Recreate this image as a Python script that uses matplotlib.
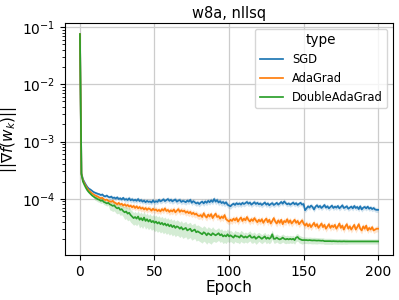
import numpy as np
import matplotlib
matplotlib.use("Agg")
import matplotlib.pyplot as plt

# mean gradient norm per epoch, in units of 1e-5 (epochs 0..200)
sgd = [7500,
       28, 22, 19.5, 17.5, 16, 15, 14.5, 13.8, 13.2, 12.8,
       12.5, 12.2, 12.0, 11.6, 11.9, 11.2, 11.0, 11.4, 10.8, 10.6,
       10.9, 10.3, 10.5, 10.1, 10.6, 9.9, 10.2, 9.7, 10.4, 9.6,
       9.9, 9.5, 10.2, 9.4, 9.8, 9.3, 9.6, 9.2, 9.9, 9.1,
       9.5, 8.9, 9.3, 8.7, 9.2, 8.8, 9.0, 8.6, 9.4, 8.7,
       9.1, 8.8, 9.6, 9.0, 9.3, 9.8, 9.1, 9.5, 9.9, 9.2,
       9.6, 9.0, 9.4, 9.7, 8.9, 9.3, 9.5, 8.8, 9.2, 9.0,
       8.7, 9.3, 8.9, 9.6, 8.5, 9.1, 8.7, 8.3, 8.6, 8.1,
       8.6, 8.9, 8.3, 9.0, 8.5, 9.2, 8.7, 9.4, 8.8, 9.9,
       8.9, 9.5, 8.6, 9.1, 8.4, 8.8, 8.2, 8.7, 7.9, 7.6,
       7.4, 7.9, 8.2, 7.8, 8.4, 8.0, 8.3, 7.9, 8.5, 8.1,
       8.4, 8.8, 8.2, 8.6, 7.9, 8.3, 8.7, 8.1, 8.5, 8.0,
       8.3, 7.8, 8.2, 8.6, 7.9, 8.3, 7.7, 8.1, 8.4, 7.8,
       8.1, 8.5, 7.9, 8.3, 8.8, 8.2, 9.0, 8.4, 8.0, 8.3,
       7.9, 8.2, 8.6, 8.0, 8.4, 7.8, 8.2, 8.5, 7.9, 8.1,
       6.3, 6.8, 7.4, 7.0, 7.6, 7.2, 6.5, 7.3, 7.7, 7.1,
       7.5, 6.9, 7.3, 7.8, 7.0, 7.4, 6.8, 7.2, 7.6, 6.9,
       7.3, 7.0, 7.5, 6.8, 7.2, 7.7, 6.9, 7.1, 7.4, 6.7,
       7.0, 7.3, 6.8, 7.5, 6.9, 7.2, 6.6, 7.4, 6.5, 7.0,
       7.2, 6.8, 7.3, 6.7, 7.0, 6.6, 6.9, 6.5, 6.4, 6.4]

adagrad = [7500,
       27, 21, 18.5, 16.5, 15, 14, 13.2, 12.5, 12.0, 11.5,
       11.2, 10.9, 10.5, 10.2, 10.4, 9.8, 9.5, 9.7, 9.2, 9.0,
       8.9, 9.2, 8.6, 8.4, 8.0, 8.5, 7.9, 8.2, 7.6, 8.0,
       7.5, 7.8, 7.3, 7.6, 7.1, 7.5, 6.9, 7.4, 6.8, 7.2,
       6.7, 7.0, 6.5, 6.9, 6.4, 6.8, 6.6, 6.2, 6.7, 6.3,
       6.5, 6.1, 6.4, 6.0, 6.6, 6.2, 6.8, 6.1, 6.4, 5.9,
       6.3, 6.0, 6.5, 5.8, 6.2, 6.6, 5.9, 6.3, 6.0, 6.2,
       5.7, 6.0, 5.6, 5.9, 5.4, 5.7, 5.3, 5.5, 5.1, 5.0,
       5.2, 4.8, 5.6, 5.0, 4.7, 5.3, 4.9, 5.4, 4.6, 5.1,
       5.5, 4.8, 5.0, 4.5, 4.9, 4.6, 5.2, 4.4, 4.2, 4.0,
       4.3, 4.1, 4.5, 4.2, 4.6, 4.0, 4.4, 4.7, 4.1, 4.5,
       4.2, 4.8, 4.3, 4.0, 4.4, 4.1, 4.6, 4.2, 3.9, 4.3,
       4.0, 4.4, 3.8, 4.2, 4.5, 3.9, 4.3, 3.7, 4.1, 4.6,
       4.0, 3.7, 4.2, 3.8, 4.3, 3.6, 4.1, 3.9, 4.4, 3.8,
       4.2, 3.7, 4.0, 4.3, 3.8, 4.1, 3.6, 3.9, 4.2, 3.7,
       3.4, 3.7, 3.3, 3.6, 3.2, 3.5, 3.8, 3.3, 3.6, 3.1,
       3.4, 3.7, 3.2, 3.5, 3.0, 3.3, 3.6, 3.1, 3.4, 3.2,
       3.5, 3.0, 3.3, 3.7, 3.1, 3.4, 2.9, 3.3, 3.6, 3.0,
       3.3, 2.9, 3.2, 3.5, 2.9, 3.2, 3.6, 3.0, 2.8, 3.3,
       3.0, 3.4, 2.8, 3.1, 2.9, 3.2, 2.8, 2.9, 3.0, 3.0]

doubleadagrad = [7500,
       27, 20, 17.5, 15.5, 14, 13, 12.2, 11.5, 11.0, 10.5,
       10.2, 9.8, 9.6, 9.2, 9.4, 8.8, 8.6, 8.3, 8.5, 8.0,
       7.8, 7.5, 7.7, 7.1, 6.8, 7.0, 6.4, 6.6, 6.1, 5.8,
       6.0, 5.5, 5.7, 5.2, 4.9, 4.6, 4.8, 4.5, 4.9, 4.3,
       4.6, 4.2, 4.7, 4.1, 4.4, 4.0, 4.3, 3.9, 4.1, 3.8,
       4.0, 3.7, 3.9, 3.6, 3.8, 3.5, 3.7, 3.4, 3.6, 3.3,
       3.5, 3.2, 3.4, 3.1, 3.3, 3.2, 3.0, 3.2, 2.9, 3.0,
       3.1, 2.8, 2.9, 3.0, 2.7, 2.8, 2.9, 2.6, 2.7, 2.6,
       2.5, 2.4, 2.6, 2.5, 2.3, 2.5, 2.4, 2.3, 2.5, 2.4,
       2.3, 2.4, 2.5, 2.3, 2.4, 2.2, 2.3, 2.2, 2.4, 2.2,
       2.3, 2.2, 2.1, 2.3, 2.2, 2.2, 2.1, 2.3, 2.2, 2.1,
       2.2, 2.1, 2.2, 2.3, 2.1, 2.1, 2.2, 2.0, 2.1, 2.2,
       2.1, 2.0, 2.1, 2.2, 2.0, 2.1, 2.0, 2.1, 2.4, 2.0,
       2.0, 2.1, 2.0, 1.95, 2.0, 2.1, 2.0, 1.95, 2.0, 1.95,
       2.0, 1.95, 2.0, 1.9, 2.1, 2.15, 2.0, 1.95, 1.9, 1.9,
       1.9, 1.9, 1.88, 1.9, 1.88, 1.87, 1.88, 1.87, 1.86, 1.87,
       1.86, 1.85, 1.86, 1.82, 1.82, 1.82, 1.82, 1.82, 1.81, 1.82,
       1.81, 1.81, 1.8, 1.81, 1.8, 1.8, 1.81, 1.8, 1.8, 1.8,
       1.8, 1.8, 1.8, 1.8, 1.8, 1.8, 1.8, 1.8, 1.8, 1.8,
       1.8, 1.8, 1.8, 1.8, 1.8, 1.8, 1.8, 1.8, 1.8, 1.8]

# relative half-width of the confidence band, read per 10-epoch block
sgd_band = [0.02, 0.06, 0.08, 0.10, 0.10, 0.10, 0.11, 0.11, 0.11, 0.12, 0.11,
            0.11, 0.11, 0.10, 0.10, 0.10, 0.10, 0.10, 0.10, 0.10, 0.10]
adagrad_band = [0.02, 0.06, 0.09, 0.11, 0.12, 0.12, 0.13, 0.13, 0.13, 0.13, 0.13,
                0.13, 0.13, 0.13, 0.13, 0.13, 0.13, 0.13, 0.13, 0.12, 0.12]
double_band = [0.02, 0.10, 0.20, 0.25, 0.28, 0.30, 0.30, 0.30, 0.30, 0.25, 0.22,
               0.20, 0.18, 0.16, 0.15, 0.13, 0.12, 0.11, 0.10, 0.10, 0.10]

labels = ["SGD", "AdaGrad", "DoubleAdaGrad"]
colors = ["#1f77b4", "#ff7f0e", "#2ca02c"]
series = [sgd, adagrad, doubleadagrad]
bands = [sgd_band, adagrad_band, double_band]
scale = 1e-5

fig = plt.figure(figsize=(3.99, 3.0), dpi=100)
ax = fig.add_axes([0.163, 0.15, 0.822, 0.773])

for lab, col, s, b in zip(labels, colors, series, bands):
    y = np.array(s, dtype=float) * scale
    x = np.arange(len(y))
    rel = np.repeat(np.array(b), 10)[:len(y)]
    ax.fill_between(x, y * (1 - rel), y * (1 + rel), color=col, alpha=0.2, lw=0)
    ax.plot(x, y, color=col, lw=1.25, label=lab)

ax.set_yscale("log")
ax.set_xticks([0, 50, 100, 150, 200])
ax.grid(True, which="major", color="#cccccc", lw=0.9)
ax.set_axisbelow(True)
ax.tick_params(labelsize=10)
ax.set_xlabel("Epoch", fontsize=11, labelpad=1)
ax.set_ylabel(r"$||\nabla f(w_k)||$", fontsize=11, labelpad=2)
ax.set_title("w8a, nllsq", fontsize=10.5, pad=4)
leg = ax.legend(title="type", loc="upper right", fontsize=8.3, title_fontsize=9.8,
                framealpha=0.8)

fig.savefig("out.png", dpi=100)
